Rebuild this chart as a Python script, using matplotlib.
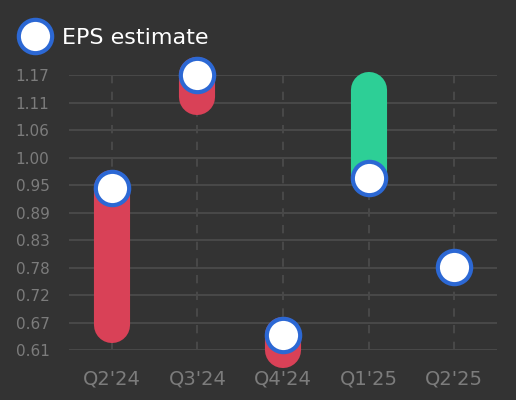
import numpy as np
import matplotlib
matplotlib.use("Agg")
import matplotlib.pyplot as plt
from matplotlib.lines import Line2D

# values
quarters = ["Q2'24", "Q3'24", "Q4'24", "Q1'25", "Q2'25"]
eps_estimate = [0.94, 1.17, 0.64, 0.96, 0.78]
eps_actual = [0.66, 1.125, 0.61, 1.14, None]
y_ticks = np.linspace(0.61, 1.17, 11)

bg = "#333333"
grid_col = "#484848"
tick_col = "#7c7c7c"
red = "#d94157"
green = "#2dcf96"
blue = "#2c68d4"

fig = plt.figure(figsize=(5.16, 4.0), dpi=100, facecolor=bg)
ax = fig.add_axes([0.1337, 0.125, 0.8295, 0.6868])
ax.set_facecolor(bg)

x = np.arange(len(quarters))
ax.set_xlim(-0.5, len(quarters) - 0.5)
ax.set_ylim(y_ticks[0], y_ticks[-1])

# grid: solid horizontal, dashed vertical
for yv in y_ticks:
    ax.axhline(yv, color=grid_col, lw=1.5, zorder=0)
for xv in x:
    ax.axvline(xv, color=grid_col, lw=1.5, dashes=(4, 4), zorder=0)

# bars from estimate to actual
for i in range(len(quarters)):
    if eps_actual[i] is None:
        continue
    col = green if eps_actual[i] >= eps_estimate[i] else red
    ax.plot([x[i], x[i]], [eps_estimate[i], eps_actual[i]], color=col,
            lw=26, solid_capstyle="round", zorder=2, clip_on=False)

# estimate markers
ax.plot(x, eps_estimate, "o", ms=24, mfc="white", mec=blue, mew=3,
        zorder=3, clip_on=False, linestyle="none")

ax.set_xticks(x)
ax.set_xticklabels(quarters)
ax.set_yticks(y_ticks)
ax.set_yticklabels(["%.2f" % v for v in y_ticks])
ax.tick_params(axis="x", length=0, pad=14, labelsize=14, labelcolor=tick_col)
ax.tick_params(axis="y", length=0, pad=14, labelsize=11, labelcolor=tick_col)
for s in ax.spines.values():
    s.set_visible(False)

handle = Line2D([], [], marker="o", ms=24, mfc="white", mec=blue, mew=3,
                linestyle="none")
fig.legend([handle], ["EPS estimate"], loc="center left",
           bbox_to_anchor=(0.012, 0.905), frameon=False, fontsize=16,
           labelcolor="white", handlelength=1.2, handletextpad=0.6,
           borderaxespad=0.3)

fig.savefig("out.png", dpi=100, facecolor=bg)
